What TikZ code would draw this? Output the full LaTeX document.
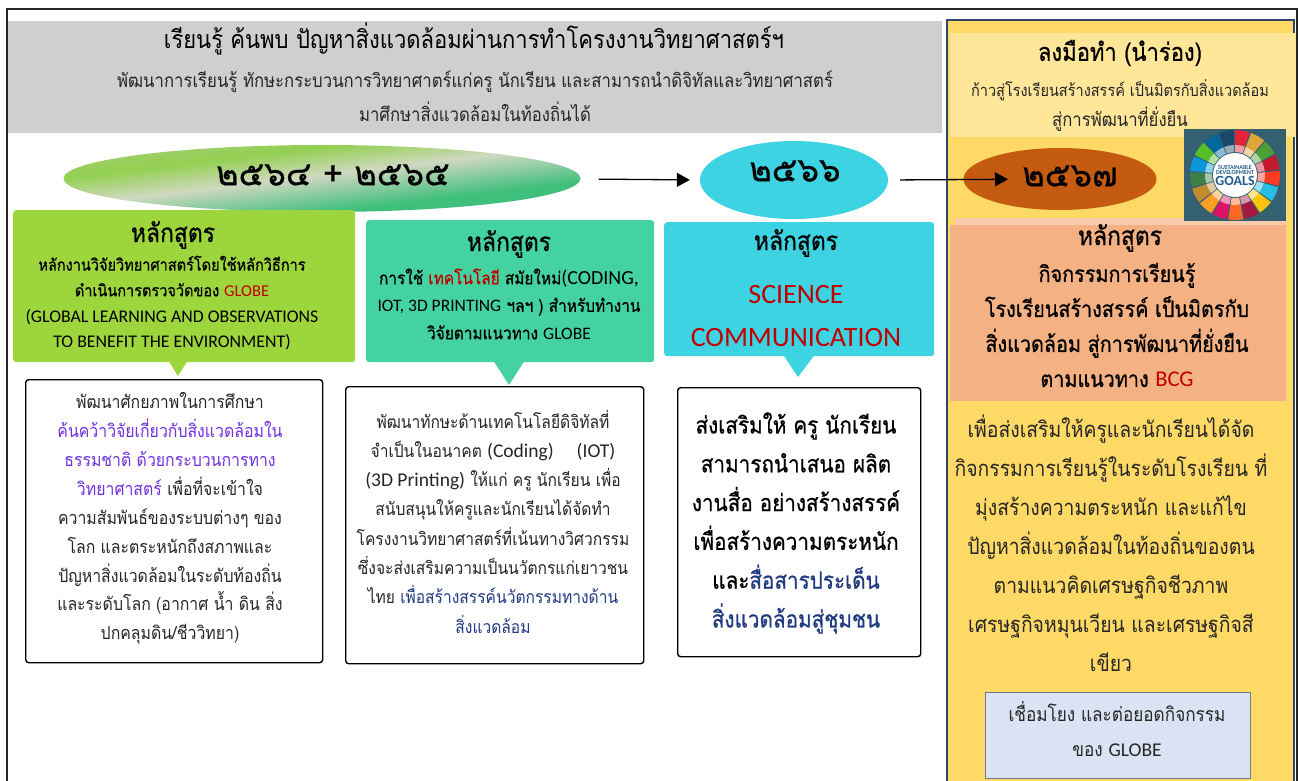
\documentclass[tikz,border=0pt]{standalone}
\usepackage{fontspec}
\usetikzlibrary{shapes.geometric,arrows.meta}
\setmainfont[Script=Thai,FakeStretch=0.88]{Loma}
\newfontfamily\yearfont[Script=Thai,FakeBold=0.5]{Loma}
\newfontfamily\medfont[Script=Thai,FakeStretch=0.88,FakeBold=0.7]{Loma}
\newfontfamily\enfont{Carlito}
\newcommand{\fs}[2]{\fontsize{#1}{#2}\selectfont}
\newcommand{\en}[1]{{\enfont #1}}
\newcommand{\ensz}[2]{{\enfont\fontsize{#1}{#1}\selectfont #2}}
\definecolor{grayband}{HTML}{D0CECE}
\definecolor{panel}{HTML}{FFD966}
\definecolor{panellight}{HTML}{FFE699}
\definecolor{limeb}{HTML}{9DD53D}
\definecolor{tealb}{HTML}{43D2A0}
\definecolor{cyanb}{HTML}{3ED3E2}
\definecolor{orangeb}{HTML}{F4B183}
\definecolor{orangel}{HTML}{F8CBAD}
\definecolor{brownb}{HTML}{C55A11}
\definecolor{paleblue}{HTML}{DAE3F3}
\definecolor{redt}{HTML}{C00000}
\definecolor{purplet}{HTML}{7030E0}
\definecolor{navyt}{HTML}{1F3A80}
\definecolor{frameb}{HTML}{2F4468}
\definecolor{sdgbg}{HTML}{34606F}
\definecolor{sdgtext}{HTML}{1F5A8A}
\definecolor{dark}{HTML}{262626}
\definecolor{grA}{HTML}{B3CC8E}
\definecolor{grB}{HTML}{92D050}
\definecolor{grC}{HTML}{D0D8C0}
\definecolor{grD}{HTML}{3FBF7C}
\tikzset{
  txt/.style={inner sep=0pt,align=center,text=dark},
  bandbox/.style={draw=none,inner sep=0pt,anchor=north west},
  whitebox/.style={inner sep=0pt,anchor=north west,draw=black,line width=1.4pt,rounded corners=3pt,fill=white},
  callbox/.style={rounded corners=3pt},
  yearlabel/.style={txt,text=black,font=\yearfont\fs{34}{40}},
  headlabel/.style={txt,text=black,font=\medfont\fs{26}{30}},
  arrowline/.style={line width=1.3pt,-{Triangle[length=13pt,width=14pt]}},
}
\begin{document}
\begin{tikzpicture}[x=1pt,y=-1pt]
\useasboundingbox (0,0) rectangle (1299,781);
\fill[white] (0,0) rectangle (1299,781);
% outer frame
\draw[line width=1.2pt,color=black!85] (7,781) -- (7,9) -- (1297,9) -- (1297,781);
% bands
\fill[grayband] (8,21) rectangle (942,133);
\draw[frameb,line width=1.1pt,fill=panel] (947,781) -- (947,20) -- (1294,20) -- (1294,781);
\fill[panellight] (950,33) rectangle (1296,137);
% header texts
\node[txt,text=black,font=\fs{25}{28}] (title) at (474,39) {เรียนรู้ ค้นพบ ปัญหาสิ่งแวดล้อมผ่านการทำโครงงานวิทยาศาสตร์ฯ};
\node[txt,font=\fs{19}{34}] (sub) at (475,96) {พัฒนาการเรียนรู้ ทักษะกระบวนการวิทยาศาตร์แก่ครู นักเรียน และสามารถนำดิจิทัลและวิทยาศาสตร์\\มาศึกษาสิ่งแวดล้อมในท้องถิ่นได้};
\node[headlabel,font=\medfont\fs{25}{30}] (rtitle) at (1120,53) {ลงมือทำ (นำร่อง)};
\node[txt,font=\fs{16.5}{30}] (rsub) at (1120,105) {ก้าวสู่โรงเรียนสร้างสรรค์ เป็นมิตรกับสิ่งแวดล้อม\\{\fs{19}{30}สู่การพัฒนาที่ยั่งยืน}};
% year ellipses
\begin{scope}
\clip (322,178.5) ellipse [x radius=258.5,y radius=33.5];
\begin{scope}[transform canvas={rotate around={6.8:(322,175)}}]
\shade[top color=grA,bottom color=grB] (30,105) rectangle (620,147.3);
\shade[top color=grB,bottom color=grC] (30,147) rectangle (620,175.3);
\shade[top color=grC,bottom color=grD] (30,175) rectangle (620,212.3);
\fill[grD] (30,212) rectangle (620,260);
\end{scope}
\end{scope}
\node[ellipse,inner sep=0pt,minimum width=517pt,minimum height=67pt] (e1) at (322,179) {};
\node[yearlabel] (y1) at (333,175) {๒๕๖๔ + ๒๕๖๕};
\node[ellipse,fill=cyanb,inner sep=0pt,minimum width=188pt,minimum height=78pt] (e2) at (794,180) {};
\node[yearlabel] (y2) at (795,171) {๒๕๖๖};
\node[ellipse,fill=brownb,inner sep=0pt,minimum width=193pt,minimum height=62pt] (e3) at (1060,179) {};
\node[yearlabel] (y3) at (1070,176) {๒๕๖๗};
\draw[arrowline,shorten <=18pt,shorten >=10pt] (e1.east) -- (e2.west);
\draw[arrowline,shorten <=12pt,shorten >=52pt] (e2.east) -- (e3.center);
% SDG picture
\fill[orangel] (955,218) rectangle (1286,226);
\fill[sdgbg] (1184,129) rectangle (1286,221);
\fill[white] (1235,175) circle (22);
\foreach \c [count=\i from 0] in {E5243B,DDA63A,4C9F38,C5192D,FF3A21,26BDE2,FCC30B,A21942,FD6925,DD1367,FD9D24,BF8B2E,3F7E44,0A97D9,56C02B,00689D,19486A}{
  \definecolor{wedge}{HTML}{\c}
  \pgfmathsetmacro{\a}{-90+\i*360/17}
  \pgfmathsetmacro{\b}{\a+360/17-2}
  \fill[wedge] (1235,175) ++(\a:30) -- ++(\a:15) arc[start angle=\a,end angle=\b,radius=45] -- ++(\b:-15) arc[start angle=\b,end angle=\a,radius=30] -- cycle;
  \fill[wedge!45!white] (1235,175) ++(\a:23) -- ++(\a:7) arc[start angle=\a,end angle=\b,radius=30] -- ++(\b:-7) arc[start angle=\b,end angle=\a,radius=23] -- cycle;
}
\node[txt,text=sdgtext,font=\bfseries\enfont\fs{6}{5.6}] (sdga) at (1235,170) {SUSTAINABLE\\DEVELOPMENT};
\node[txt,text=sdgtext,font=\bfseries\enfont\fs{14}{14}] (sdgb) at (1235,181) {GOALS};
% course boxes
\node[callbox,bandbox,fill=limeb,minimum width=342pt,minimum height=152pt] (b1) at (13,210) {};
\fill[limeb] (168,360) -- (178,376) -- (188,360) -- cycle;
\node[callbox,bandbox,fill=tealb,minimum width=288pt,minimum height=142pt] (b2) at (366,220) {};
\fill[tealb] (493,360) -- (509,385) -- (525,360) -- cycle;
\node[callbox,bandbox,fill=cyanb,minimum width=270pt,minimum height=134pt] (b3) at (664,222) {};
\fill[cyanb] (782,353) -- (798,377) -- (816,353) -- cycle;
\node[bandbox,fill=orangeb,minimum width=336pt,minimum height=176pt] (b4) at (950,225) {};
% course texts
\node[headlabel] (b1t) at (173,235) {หลักสูตร};
\node[txt,text=black,font=\medfont\fs{16.5}{25.7}] (b1b) at (172,303) {หลักงานวิจัยวิทยาศาสตร์โดยใช้หลักวิธีการ\\ดำเนินการตรวจวัดของ \textcolor{redt}{\en{GLOBE}}\\\ensz{17.8}{(GLOBAL LEARNING AND OBSERVATIONS}\\\ensz{17.8}{TO BENEFIT THE ENVIRONMENT)}};
\node[headlabel] (b2t) at (509,244) {หลักสูตร};
\node[txt,text=black,font=\medfont\fs{17.5}{27.5}] (b2b) at (509,304) {การใช้ \textcolor{redt}{เทคโนโลยี} สมัยใหม่\ensz{20}{(CODING,}\\\en{IOT, 3D PRINTING} ฯลฯ ) สำหรับทำงาน\\วิจัยตามแนวทาง \en{GLOBE}};
\node[headlabel] (b3t) at (796,243) {หลักสูตร};
\node[txt,text=redt,font=\enfont\fs{28}{43}] (b3b) at (796,316) {SCIENCE\\COMMUNICATION};
\node[headlabel] (b4t) at (1120,238) {หลักสูตร};
\node[txt,text=black,font=\medfont\fs{22.5}{35}] (b4b) at (1117,325) {กิจกรรมการเรียนรู้\\โรงเรียนสร้างสรรค์ เป็นมิตรกับ\\สิ่งแวดล้อม สู่การพัฒนาที่ยั่งยืน\\ตามแนวทาง \textcolor{redt}{\en{BCG}}};
% white boxes
\node[whitebox,minimum width=297pt,minimum height=283pt] (w1) at (25,379) {};
\node[whitebox,minimum width=298pt,minimum height=277pt] (w2) at (345,386) {};
\node[whitebox,minimum width=243pt,minimum height=269pt] (w3) at (677,387) {};
\node[txt,font=\fs{18}{28.9}] (w1t) at (170,518.5) {พัฒนาศักยภาพในการศึกษา\\\textcolor{purplet}{ค้นคว้าวิจัยเกี่ยวกับสิ่งแวดล้อมใน}\\\textcolor{purplet}{ธรรมชาติ ด้วยกระบวนการทาง}\\\textcolor{purplet}{วิทยาศาสตร์} เพื่อที่จะเข้าใจ\\ความสัมพันธ์ของระบบต่างๆ ของ\\โลก และตระหนักถึงสภาพและ\\ปัญหาสิ่งแวดล้อมในระดับท้องถิ่น\\และระดับโลก (อากาศ น้ำ ดิน สิ่ง\\ปกคลุมดิน/ชีววิทยา)};
\node[txt,font=\fs{17.7}{29.3}] (w2t) at (493,521.5) {พัฒนาทักษะด้านเทคโนโลยีดิจิทัลที่\\จำเป็นในอนาคต \ensz{19.5}{(Coding)} \quad \ensz{19.5}{(IOT)}\\\ensz{19.5}{(3D Printing)} ให้แก่ ครู นักเรียน เพื่อ\\สนับสนุนให้ครูและนักเรียนได้จัดทำ\\โครงงานวิทยาศาสตร์ที่เน้นทางวิศวกรรม\\ซึ่งจะส่งเสริมความเป็นนวัตกรแก่เยาวชน\\ไทย \textcolor{navyt}{เพื่อสร้างสรรค์นวัตกรรมทางด้าน}\\\textcolor{navyt}{สิ่งแวดล้อม}};
\node[txt,text=black,font=\medfont\fs{23.5}{38.8}] (w3t) at (796,523) {ส่งเสริมให้ ครู นักเรียน\\สามารถนำเสนอ ผลิต\\งานสื่อ อย่างสร้างสรรค์\\เพื่อสร้างความตระหนัก\\และ\textcolor{navyt}{สื่อสารประเด็น}\\\textcolor{navyt}{สิ่งแวดล้อมสู่ชุมชน}};
\node[txt,font=\fs{22}{39}] (ptext) at (1111,543) {เพื่อส่งเสริมให้ครูและนักเรียนได้จัด\\กิจกรรมการเรียนรู้ในระดับโรงเรียน ที่\\มุ่งสร้างความตระหนัก และแก้ไข\\ปัญหาสิ่งแวดล้อมในท้องถิ่นของตน\\ตามแนวคิดเศรษฐกิจชีวภาพ\\เศรษฐกิจหมุนเวียน และเศรษฐกิจสี\\เขียว};
\node[bandbox,fill=paleblue,draw=frameb!70,line width=1pt,minimum width=265pt,minimum height=86pt] (pb) at (985,692) {};
\node[txt,font=\fs{19.5}{35}] (pbt) at (1117,729) {เชื่อมโยง และต่อยอดกิจกรรม\\ของ \en{GLOBE}};
\end{tikzpicture}
\end{document}
